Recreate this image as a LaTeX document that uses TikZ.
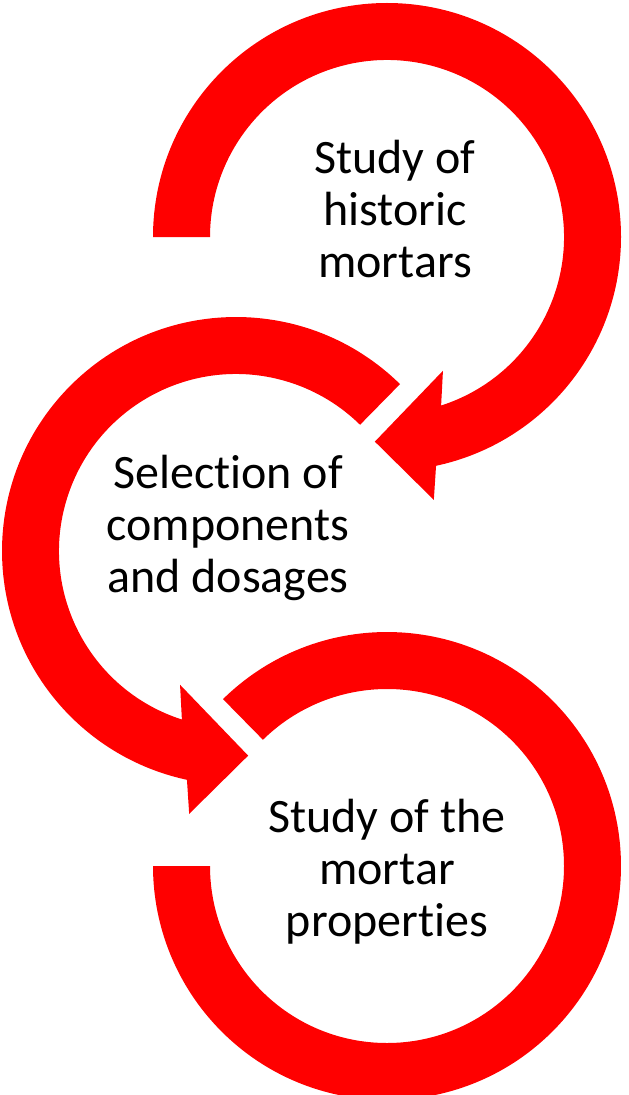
\documentclass[tikz,border=0pt]{standalone}
\usepackage{fontspec}
\setmainfont{Carlito}[Ligatures={NoCommon,NoContextual}, Contextuals=NoAlternate]
\usepackage{tikz}

\definecolor{arrowred}{RGB}{255,0,0}
\tikzset{
  ring/.style={fill=arrowred, draw=none},
  stage/.style={align=center, font=\fontsize{36}{39}\selectfont, text=black}
}

\begin{document}
\begin{tikzpicture}[x=0.75pt, y=0.75pt]
   \useasboundingbox (0,0) rectangle (628,-1095);
   \clip (0,0) rectangle (628,-1095);
   \coordinate (c1) at (387,-237);
   \coordinate (c2) at (236,-551);
   \coordinate (c3) at (387,-866);

   % first step: clockwise, head at the bottom
   \begin{scope}[shift={(c1)}]
      \fill[ring] (180:234) arc[start angle=180, end angle=-77.9, radius=234]
         -- (-79.9:267) -- (-93.4:205) -- (-67.3:145) -- (-72.2:177)
         arc[start angle=-72.2, end angle=180, radius=177] -- cycle;
   \end{scope}
   % second step: counter-clockwise
   \begin{scope}[shift={(c2)}]
      \fill[ring] (45.5:234) arc[start angle=45.5, end angle=257.9, radius=234]
         -- (259.9:267) -- (273.4:205) -- (247.3:145) -- (252.2:177)
         arc[start angle=252.2, end angle=45.5, radius=177] -- cycle;
   \end{scope}
   % last step: open ring, no head
   \begin{scope}[shift={(c3)}]
      \fill[ring] (134.5:234) arc[start angle=134.5, end angle=-180, radius=234]
         -- (180:177) arc[start angle=-180, end angle=134.5, radius=177] -- cycle;
   \end{scope}

   \node[stage] (hist) at (395,-209) {Study of\\historic\\mortars};
   \node[stage] (sel)  at (228,-528) {Selection of\\components\\and dosages};
   \node[stage] (prop) at (387,-872) {Study of the\\mortar\\propert\kern0pt ies};
\end{tikzpicture}
\end{document}
